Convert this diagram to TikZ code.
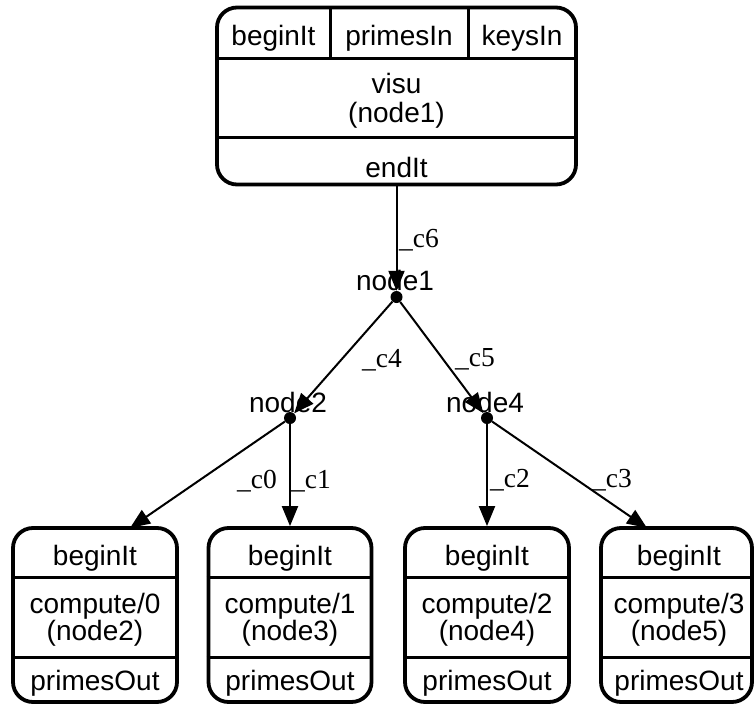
\documentclass[tikz,border=0pt]{standalone}
\usepackage{fontspec}
\setmainfont{Liberation Serif}
\setsansfont{Liberation Sans}
\usetikzlibrary{arrows.meta,calc}

\begin{document}
\begin{tikzpicture}[x=1pt,y=-1pt,
  rec/.style={draw, line width=3.8pt, rounded corners=20pt, inner sep=0pt},
  sepline/.style={line width=3pt},
  txt/.style={font=\sffamily\fontsize{28}{32}\selectfont, inner sep=0pt, anchor=base},
  lbl/.style={font=\rmfamily\fontsize{27.5}{32}\selectfont, inner sep=0pt, anchor=base west},
  dot/.style={circle, fill, minimum size=12pt, inner sep=0pt},
  conn/.style={line width=2pt, -{Triangle[length=20pt,width=16pt]}},
]
\useasboundingbox (0,0) rectangle (755,704);

% ---- visu process with its ports ----
\node[rec, minimum width=359pt, minimum height=177pt] (visu) at (396.5,96) {};
\draw[sepline] (217,58) -- (576,58);
\draw[sepline] (217,137) -- (576,137);
\draw[sepline] (330,8) -- (330,58);
\draw[sepline] (468,8) -- (468,58);
\node[txt] (vb) at (273.5,45) {beginIt};
\node[txt] (vp) at (399,45) {primesIn};
\node[txt] (vk) at (522,45) {keysIn};
\node[txt] (vn) at (396.5,93) {visu};
\node[txt] (vi) at (396.5,122) {(node1)};
\node[txt] (ve) at (396.5,177) {endIt};

% ---- routing points ----
\node[dot] (n1) at (396.5,297) {};
\node[dot] (n2) at (290,418) {};
\node[dot] (n4) at (487,418) {};

% ---- compute processes ----
\foreach \nm/\cx/\w/\tx/\k/\id in {c0/95/164/95/0/2, c1/290/163/290/1/3, c2/487/164/487/2/4, c3/676.5/151/679/3/5}{
  \node[rec, minimum width=\w pt, minimum height=174pt] (\nm) at (\cx,615) {};
  \draw[sepline] ($(\nm.west)+(0,-38)$) -- ($(\nm.east)+(0,-38)$);
  \draw[sepline] ($(\nm.west)+(0,42)$) -- ($(\nm.east)+(0,42)$);
  \node[txt] (\nm b) at (\tx,565) {beginIt};
  \node[txt] (\nm n) at (\tx,613) {compute/\k};
  \node[txt] (\nm i) at (\tx,640) {(node\id)};
  \node[txt] (\nm o) at (\tx,690) {primesOut};
}

\coordinate (c0in) at (130,528);
\coordinate (c3in) at (647,528);

% ---- connectors ----
\draw[conn] (visu) -- (n1);
\draw[conn] (n1) -- (n2);
\draw[conn] (n1) -- (n4);
\draw[conn] (n2) -- (c0in);
\draw[conn] (n2) -- (c1);
\draw[conn] (n4) -- (c2);
\draw[conn] (n4) -- (c3in);

% ---- point labels ----
\node[txt] (l1) at (395,290) {node1};
\node[txt] (l2) at (288,412) {node2};
\node[txt] (l4) at (485,412) {node4};

% ---- connector labels ----
\node[lbl] (e6) at (399,247) {\_c6};
\node[lbl] (e4) at (362,367) {\_c4};
\node[lbl] (e5) at (455,366) {\_c5};
\node[lbl] (e0) at (237,488) {\_c0};
\node[lbl] (e1) at (291,488) {\_c1};
\node[lbl] (e2) at (490,487) {\_c2};
\node[lbl] (e3) at (592,487) {\_c3};
\end{tikzpicture}
\end{document}
